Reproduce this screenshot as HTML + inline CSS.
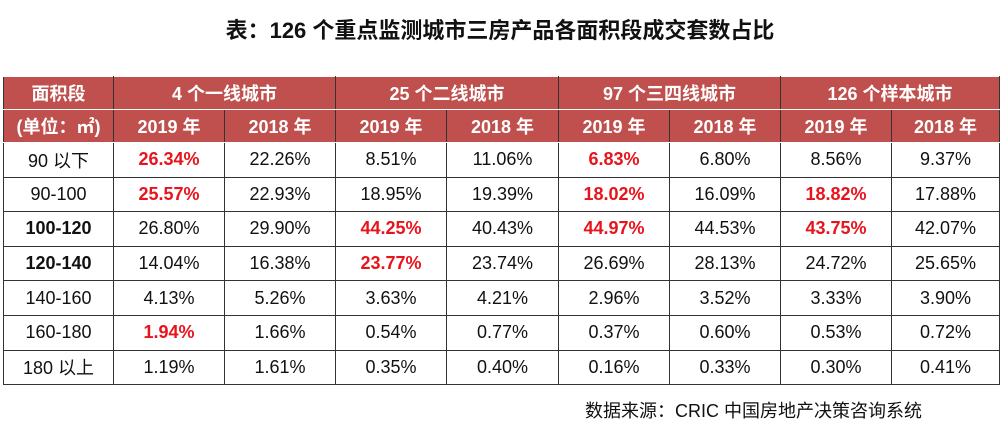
<!DOCTYPE html>
<html><head><meta charset="utf-8"><style>
body{margin:0;width:1000px;height:433px;background:#fff;position:relative;overflow:hidden;font-family:"Liberation Sans","Noto Sans CJK SC",sans-serif;}
#title{position:absolute;left:0;width:1000px;top:13px;text-align:center;font-size:22px;font-weight:bold;color:#111;}
table{position:absolute;left:3px;top:76px;border-collapse:collapse;table-layout:fixed;}
td{border:1px solid #333;text-align:center;font-size:18px;color:#111;padding:0;height:33.6px;}
tr.h td{background:#c0504d;color:#fff;font-weight:bold;border-color:#fff #333;height:32px;}
td.r{color:#e8141c;font-weight:bold;}
td.b{font-weight:bold;}
#src{position:absolute;left:585px;top:397px;font-size:18px;color:#111;}
</style></head><body>
<div id="title">表：126 个重点监测城市三房产品各面积段成交套数占比</div>
<table>
<colgroup><col style="width:110px"><col style="width:111px"><col style="width:111px"><col style="width:111px"><col style="width:112px"><col style="width:111px"><col style="width:111px"><col style="width:111px"><col style="width:108px"></colgroup>
<tr class="h"><td>面积段</td><td colspan="2">4 个一线城市</td><td colspan="2">25 个二线城市</td><td colspan="2">97 个三四线城市</td><td colspan="2">126 个样本城市</td></tr>
<tr class="h"><td>(单位：㎡)</td><td>2019 年</td><td>2018 年</td><td>2019 年</td><td>2018 年</td><td>2019 年</td><td>2018 年</td><td>2019 年</td><td>2018 年</td></tr>
<tr><td>90 以下</td><td class="r">26.34%</td><td>22.26%</td><td>8.51%</td><td>11.06%</td><td class="r">6.83%</td><td>6.80%</td><td>8.56%</td><td>9.37%</td></tr>
<tr><td>90-100</td><td class="r">25.57%</td><td>22.93%</td><td>18.95%</td><td>19.39%</td><td class="r">18.02%</td><td>16.09%</td><td class="r">18.82%</td><td>17.88%</td></tr>
<tr><td class="b">100-120</td><td>26.80%</td><td>29.90%</td><td class="r">44.25%</td><td>40.43%</td><td class="r">44.97%</td><td>44.53%</td><td class="r">43.75%</td><td>42.07%</td></tr>
<tr><td class="b">120-140</td><td>14.04%</td><td>16.38%</td><td class="r">23.77%</td><td>23.74%</td><td>26.69%</td><td>28.13%</td><td>24.72%</td><td>25.65%</td></tr>
<tr><td>140-160</td><td>4.13%</td><td>5.26%</td><td>3.63%</td><td>4.21%</td><td>2.96%</td><td>3.52%</td><td>3.33%</td><td>3.90%</td></tr>
<tr><td>160-180</td><td class="r">1.94%</td><td>1.66%</td><td>0.54%</td><td>0.77%</td><td>0.37%</td><td>0.60%</td><td>0.53%</td><td>0.72%</td></tr>
<tr><td>180 以上</td><td>1.19%</td><td>1.61%</td><td>0.35%</td><td>0.40%</td><td>0.16%</td><td>0.33%</td><td>0.30%</td><td>0.41%</td></tr>
</table>
<div id="src">数据来源：CRIC 中国房地产决策咨询系统</div>
</body></html>
